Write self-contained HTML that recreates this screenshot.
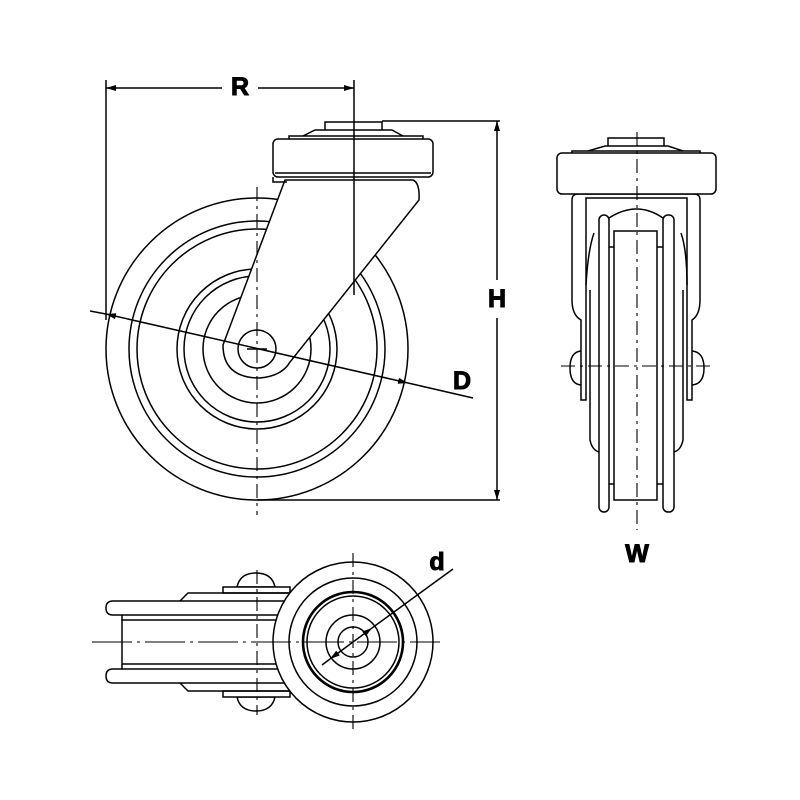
<!DOCTYPE html>
<html><head><meta charset="utf-8"><style>html,body{margin:0;padding:0;background:#fff}svg{display:block}</style></head>
<body>
<svg width="800" height="800" viewBox="0 0 800 800" xmlns="http://www.w3.org/2000/svg" fill="none" stroke="#000" stroke-width="1.5">
<defs>
<marker id="a" viewBox="0 0 10 6" refX="10" refY="3" markerWidth="10" markerHeight="6" orient="auto-start-reverse" markerUnits="userSpaceOnUse"><path d="M0,0 L10,3 L0,6 Z" fill="#000" stroke="none"/></marker>
</defs>
<!-- MAIN VIEW -->
<circle cx="257" cy="349" r="151"/>
<circle cx="257" cy="349" r="128"/>
<circle cx="257" cy="349" r="120"/>
<circle cx="257" cy="349" r="80"/>
<circle cx="257" cy="349" r="73"/>
<circle cx="257" cy="349" r="54"/>
<path d="M285,180 L413,180 Q420,183 419,200 L290,362 Q282,376 260,378 Q223,378 223,345 Z" fill="#fff"/>
<circle cx="257" cy="349" r="19" fill="#fff"/>
<line x1="247" y1="349" x2="267" y2="349"/>
<!-- top plate -->
<rect x="273" y="139" width="160" height="38" rx="5" fill="#fff"/>
<line x1="275" y1="173" x2="431" y2="173"/>
<path d="M273,177 L273,182 L287,182"/>
<path d="M289,139 L289,136 L423,136 L423,139"/>
<path d="M303,136 L315,130 L392,130 L403,136"/>
<path d="M325,130 L325,122 L382,122 L382,130"/>
<!-- centerline -->
<line x1="257" y1="187" x2="257" y2="515" stroke-dasharray="14,5,3,5" stroke-width="1.1"/>
<!-- R dimension -->
<line x1="106" y1="80" x2="106" y2="320"/>
<line x1="354" y1="80" x2="354" y2="295"/>
<line x1="106" y1="88" x2="222" y2="88" marker-start="url(#a)"/>
<line x1="258" y1="88" x2="354" y2="88" marker-end="url(#a)"/>
<text x="240" y="95" font-family="Liberation Sans, sans-serif" font-weight="bold" font-size="25" text-anchor="middle" fill="#000" stroke="#000" stroke-width="1">R</text>
<!-- H dimension -->
<line x1="382" y1="121" x2="500" y2="121"/>
<line x1="257" y1="500" x2="500" y2="500"/>
<line x1="497" y1="121" x2="497" y2="280" marker-start="url(#a)"/>
<line x1="497" y1="318" x2="497" y2="500" marker-end="url(#a)"/>
<text x="497" y="307" font-family="Liberation Sans, sans-serif" font-weight="bold" font-size="25" text-anchor="middle" fill="#000" stroke="#000" stroke-width="1">H</text>
<!-- D dimension -->
<line x1="90" y1="311" x2="106" y2="314"/>
<line x1="106" y1="314" x2="408" y2="383" marker-start="url(#a)" marker-end="url(#a)"/>
<line x1="408" y1="383" x2="473" y2="398"/>
<text x="462" y="389" font-family="Liberation Sans, sans-serif" font-weight="bold" font-size="25" text-anchor="middle" fill="#000" stroke="#000" stroke-width="1">D</text>
<!-- SIDE VIEW -->
<path d="M572,200 Q572,194 578,194 L694,194 Q700,194 700,200 L700,300 Q700,315 692,320 L692,400 L687,400 L687,198 L586,198 L586,400 L581,400 L581,320 Q572,315 572,300 Z" fill="#fff"/>
<path d="M594,233 Q588,250 586,285 M681,233 Q687,250 687,285"/>
<path d="M590,290 L590,440 Q592,450 599,452 M683,290 L683,440 Q681,450 674,452"/>
<rect x="599" y="215" width="10" height="297" rx="5" fill="#fff"/>
<rect x="663" y="215" width="11" height="297" rx="5" fill="#fff"/>
<path d="M609,218 Q637,200 663,218"/>
<path d="M609,247 L614,247 M609,484 L614,484 M657,247 L663,247 M657,484 L663,484"/>
<rect x="614" y="231" width="43" height="269" fill="#fff"/>
<path d="M581,351 Q570,352 570,368 Q570,384 581,385"/>
<path d="M692,351 Q704,352 704,368 Q704,384 692,385"/>
<line x1="561" y1="366" x2="712" y2="366" stroke-dasharray="14,5,3,5" stroke-width="1.1"/>
<rect x="557" y="153" width="159" height="41" rx="5" fill="#fff"/>
<path d="M572,153 L572,151 L700,151 L700,153"/>
<path d="M588,151 L605,146 L668,146 L683,151"/>
<path d="M608,146 L608,138 L664,138 L664,146"/>
<line x1="637" y1="132" x2="637" y2="530" stroke-dasharray="14,5,3,5" stroke-width="1.1"/>
<text x="637" y="562" font-family="Liberation Sans, sans-serif" font-weight="bold" font-size="25" text-anchor="middle" fill="#000" stroke="#000" stroke-width="1">W</text>
<!-- BOTTOM VIEW -->
<path d="M237,587 Q240,573 256,573 Q272,573 275,587 Z" fill="#fff"/>
<path d="M237,697 Q240,711 256,711 Q272,711 275,697 Z" fill="#fff"/>
<rect x="223" y="587" width="67" height="6" fill="#fff"/>
<rect x="223" y="691" width="67" height="6" fill="#fff"/>
<path d="M180,601 L188,593 L290,593 M180,683 L188,691 L290,691"/>
<path d="M113,601 L290,601 M113,615 L290,615 M113,601 Q106,601 106,608 Q106,615 113,615"/>
<path d="M113,669 L290,669 M113,683 L290,683 M113,669 Q106,669 106,676 Q106,683 113,683"/>
<rect x="122" y="620" width="155" height="44"/>
<path d="M122,615 L122,620 M122,664 L122,669"/>
<circle cx="353" cy="642" r="80" fill="#fff"/>
<circle cx="353" cy="642" r="64"/>
<circle cx="353" cy="642" r="50" stroke-width="2.6"/>
<circle cx="353" cy="642" r="46"/>
<circle cx="353" cy="642" r="27"/>
<circle cx="353" cy="642" r="15"/>
<line x1="92" y1="642" x2="440" y2="642" stroke-dasharray="40,5,3,5" stroke-width="1.1"/>
<line x1="257" y1="570" x2="257" y2="715" stroke-dasharray="14,5,3,5" stroke-width="1.1"/>
<line x1="353" y1="553" x2="353" y2="732" stroke-dasharray="14,5,3,5" stroke-width="1.1"/>
<line x1="322" y1="665" x2="330" y2="659"/>
<line x1="330" y1="659" x2="372" y2="628" marker-start="url(#a)" marker-end="url(#a)"/>
<line x1="372" y1="628" x2="453" y2="569"/>
<text x="437" y="570" font-family="Liberation Sans, sans-serif" font-weight="bold" font-size="25" text-anchor="middle" fill="#000" stroke="#000" stroke-width="1">d</text>
</svg>
</body></html>
